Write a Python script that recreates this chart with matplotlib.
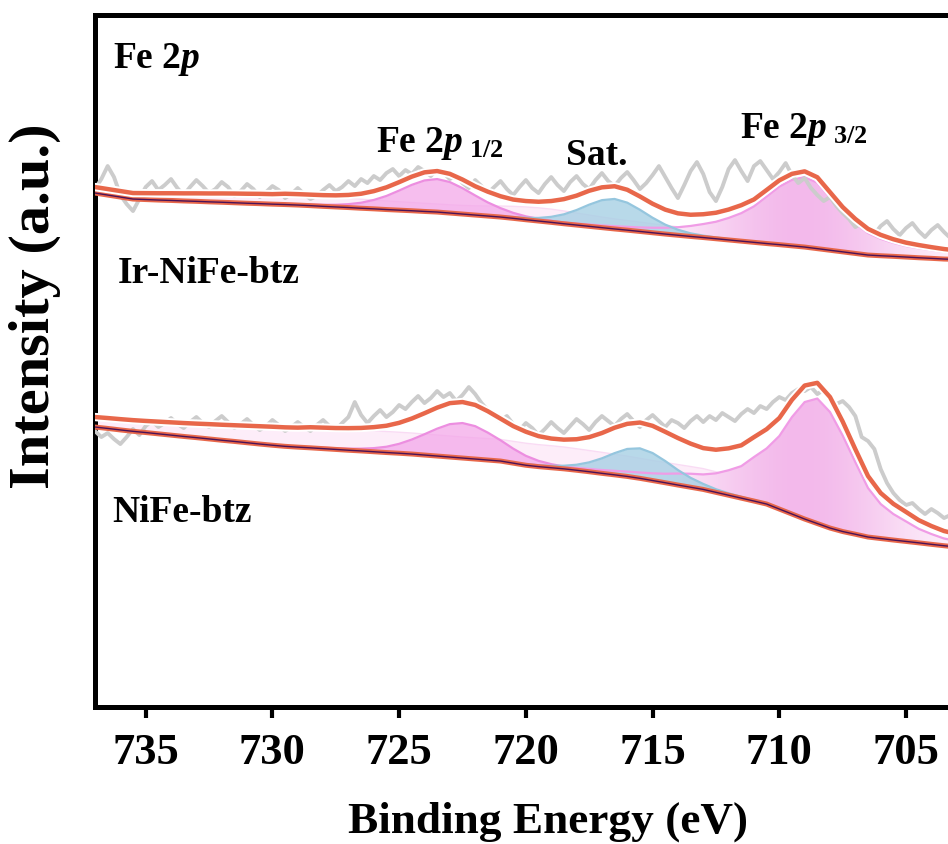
import numpy as np
import matplotlib.pyplot as plt
import matplotlib.patheffects as pe
from matplotlib.colors import LinearSegmentedColormap

plt.rcParams['font.family'] = ['Liberation Serif', 'DejaVu Serif']
plt.rcParams['font.weight'] = 'bold'
plt.rcParams['mathtext.fontset'] = 'custom'
plt.rcParams['mathtext.rm'] = 'Liberation Serif:bold'
plt.rcParams['mathtext.bf'] = 'Liberation Serif:bold'
plt.rcParams['mathtext.it'] = 'Liberation Serif:italic:bold'

# binding energy grids (eV): fitted curves every 0.5 eV, measured data every 0.25 eV
be = np.linspace(737.0, 703.0, 69)
be_raw = np.linspace(737.0, 703.0, 137)
xtick_vals = [735, 730, 725, 720, 715, 710, 705]

# ---- Ir-NiFe-btz (upper trace, stacked offset) ----
ir_bg = [514, 512, 510, 508, 507.5, 507, 506.6, 506.1, 505.7, 505.2,
         504.8, 504.3, 503.8, 503.4, 502.9, 502.5, 502, 501.4, 500.7, 500.1,
         499.5, 498.8, 498.2, 497.5, 496.9, 496.3, 495.6, 495, 494, 493,
         492, 491, 490, 488.7, 487.3, 486, 484.7, 483.3, 482, 480.7,
         479.4, 478.1, 476.9, 475.6, 474.3, 473, 471.8, 470.6, 469.5, 468.3,
         467.1, 465.9, 464.7, 463.5, 462.4, 461.2, 460, 458.4, 456.8, 455.2,
         453.6, 452, 451.3, 450.7, 450, 449.3, 448.7, 448, 447.6]
ir_broad = [6, 6, 6, 6, 6.4, 6.8, 7.2, 7.6, 8, 8.4,
            8.8, 9.2, 9.5, 9.8, 10, 10, 10, 9.8, 9.6, 9.4,
            9.2, 9, 8.8, 8.6, 8.4, 8.2, 8.1, 8, 8.2, 8.6,
            9.2, 10, 11, 12, 12.8, 13.2, 13.2, 12.8, 12, 11.3,
            10.6, 10, 9.6, 9.3, 9, 8.7, 8.4, 8.1, 7.9, 7.7,
            7.5, 7.2, 6.9, 6.6, 6.3, 6, 5.7, 5.4, 5.1, 4.8,
            4.5, 4.2, 3.9, 3.6, 3.4, 3.2, 3, 2.8, 2.6]
ir_p12 = (729.5, [0.8, 0.9, 1.2, 1.6, 2.2, 3.4, 5.5, 8.9, 13.6, 19.6, 25.9, 31.0, 33,
                  31.0, 25.9, 19.6, 13.6, 8.9, 5.5, 3.4, 2.2, 1.6, 1.2, 0.9, 0.8])
ir_sat = (721.5, [0.75, 0.9, 1.3, 1.9, 3.1, 5.5, 9.4, 15, 21.7, 27.5, 30,
                  27.5, 21.7, 15, 9.4, 5.5, 3.1, 1.9, 1.3, 0.9, 0.75])
ir_p32 = (720.0, [0.6, 0.8, 1.0, 1.2, 1.5, 1.8, 2.2, 2.7, 3.3, 4, 5, 6.3, 8, 10.5,
                  13.5, 17, 22, 28, 36, 47, 58, 66, 70, 66, 53, 40, 30, 22, 17,
                  13.5, 11, 9.5, 8.2, 7.2, 6.4])
ir_raw = [518, 528, 541, 530, 512, 503, 496, 508, 520,
          526, 517, 522, 528, 519, 512, 520, 527,
          521, 514, 518, 525, 520, 511, 516, 523,
          518, 510, 515, 521, 517, 509, 513, 519,
          513, 508, 511, 517, 522, 516, 520, 526,
          521, 528, 524, 531, 527, 534, 538, 531,
          537, 533, 540, 536, 531, 538, 534, 528,
          532, 524, 519, 527, 521, 514, 520, 526,
          518, 512, 520, 527, 519, 514, 523, 530,
          522, 516, 525, 531, 523, 518, 527, 534,
          526, 521, 529, 535, 527, 518, 524, 532,
          541, 530, 519, 509, 522, 536, 545, 533,
          515, 506, 520, 538, 547, 536, 526, 541,
          546, 537, 528, 535, 544, 532, 524, 529,
          519, 512, 506, 510, 501, 494, 488, 480,
          484, 477, 473, 481, 486, 478, 472, 479,
          484, 476, 470, 477, 482, 475, 469, 474]

# ---- NiFe-btz (lower trace) ----
nife_bg = [280, 278.6, 277.1, 275.7, 274.5, 273.2, 271.9, 270.6, 269.4, 268.1,
           266.8, 265.6, 264.3, 263, 261.8, 260.7, 259.9, 259.2, 258.4, 257.6,
           256.8, 256.1, 255.3, 254.5, 253.8, 253, 252, 251, 250, 249,
           248, 247, 246, 243.9, 241.8, 240.4, 239.3, 238.2, 236.8, 235.3,
           233.7, 232.2, 230.6, 228.7, 226.5, 224.3, 222, 219.8, 217.6, 214.7,
           211.8, 208.9, 206, 203, 198, 193, 188, 183.5, 179, 175.5,
           172.8, 170, 168.5, 167, 165.6, 164.2, 162.7, 161.3, 160]
nife_broad = [10, 10.4, 10.8, 11.2, 11.6, 12.2, 12.8, 13.4, 14, 14.8,
              15.5, 16.2, 17, 17.8, 18.5, 19, 19.5, 19.8, 20, 20.2,
              20.5, 20.7, 21, 21, 21, 21, 21, 21, 21, 21,
              21.2, 21.4, 21.6, 21.8, 22, 22, 22, 21.8, 21.5, 21.2,
              21, 20.6, 20.3, 20, 20, 20.2, 20.5, 20.7, 20.8, 20.5,
              20, 19.5, 19, 18.5, 18, 17.2, 16.5, 15.7, 15, 14,
              13, 12, 11, 10.2, 9.5, 8.7, 8, 7.5, 7]
nife_p12 = (728.5, [0.8, 1.0, 1.2, 1.6, 2.3, 3.6, 5.8, 9.4, 14.5, 20.8, 27.4, 32.9, 35,
                    32.9, 27.4, 20.8, 14.5, 9.4, 5.8, 3.6, 2.3, 1.6, 1.2, 1.0, 0.8])
nife_sat = (720.5, [0.75, 0.9, 1.3, 1.9, 3.1, 5.5, 9.4, 15, 21.7, 27.5, 30,
                    27.5, 21.7, 15, 9.4, 5.5, 3.1, 1.9, 1.3, 0.9, 0.75])
nife_p32 = (720.0, [1.2, 1.4, 1.7, 2, 2.4, 2.8, 3.3, 4.0, 4.8, 5.8, 7.2, 9, 11.5, 13.5,
                    15, 19, 25, 32, 44, 55.6, 73, 97, 117, 125, 116, 96, 72, 49,
                    34.5, 26, 20, 14, 10.3, 7.2, 6])
nife_raw = [276, 270, 274, 268, 263, 270, 278, 272, 281,
            286, 280, 284, 289, 283, 279, 285, 290,
            284, 280, 286, 291, 285, 279, 283, 288,
            282, 277, 281, 287, 282, 276, 280, 285,
            280, 276, 282, 287, 281, 277, 284, 290,
            305, 292, 284, 291, 297, 290, 295, 302,
            298, 305, 311, 304, 309, 316, 310, 314,
            306, 312, 320, 313, 304, 297, 292, 286,
            291, 283, 277, 284, 279, 272, 278, 285,
            279, 274, 281, 288, 283, 277, 285, 291,
            286, 281, 288, 293, 286, 280, 287, 292,
            286, 280, 287, 284, 279, 286, 291, 285,
            291, 287, 294, 290, 286, 293, 298, 294,
            301, 298, 305, 310, 307, 314, 318, 316,
            320, 313, 317, 309, 303, 306, 300, 291,
            270, 266, 258, 238, 224, 214, 207, 202,
            204, 198, 193, 198, 194, 189, 192, 188]


def on_grid(comp):
    """put a fitted peak (start energy, values) onto the common grid"""
    start, vals = comp
    out = np.zeros_like(be)
    i0 = int(round((737.0 - start) / 0.5))
    out[i0:i0 + len(vals)] = vals
    return out


pink_cmap = LinearSegmentedColormap.from_list('p32', ['#fef4fc', '#f8d3f2', '#f3b9eb'])
line_kw = dict(solid_joinstyle='round', solid_capstyle='round')


def draw_spectrum(ax, bg, broad, p12, sat, p32, raw):
    bg = np.asarray(bg, float)
    broad = np.asarray(broad, float)
    p12, sat, p32 = on_grid(p12), on_grid(sat), on_grid(p32)
    env = bg + broad + p12 + sat + p32

    # broad underlying component (kept beneath the other fills)
    ax.fill_between(be, bg, bg + broad, color='#fdedf9', lw=0, zorder=1)
    ax.plot(be, bg + broad, color='#f9dbf4', lw=1.0, zorder=1.2)

    # Fe 2p3/2 with a horizontal pink gradient
    poly = ax.fill_between(be, bg, bg + p32, color='none', lw=0, zorder=1)
    grad = np.exp(-((be - 709.0) / 4.0) ** 2)[None, :]
    im = ax.imshow(grad, cmap=pink_cmap, aspect='auto', zorder=1.5,
                   extent=[be[0], be[-1], bg.min(), (bg + p32).max()],
                   origin='lower', interpolation='bilinear')
    im.set_clip_path(poly.get_paths()[0], transform=ax.transData)
    ax.plot(be, bg + p32, color='#f09ce6', lw=1.6, zorder=2, **line_kw)

    # Fe 2p1/2 and satellite
    ax.fill_between(be, bg, bg + p12, color='#f3a8e9', alpha=0.75, lw=0, zorder=1.6)
    ax.plot(be, bg + p12, color='#ec8ee0', lw=1.6, zorder=2, **line_kw)
    ax.fill_between(be, bg, bg + sat, color='#a7d0e4', alpha=0.8, lw=0, zorder=1.7)
    ax.plot(be, bg + sat, color='#95c6de', lw=1.6, zorder=2, **line_kw)

    # measured data, background and envelope
    ax.plot(be_raw, raw, color='#cccccc', lw=2.8, zorder=3, **line_kw)
    ax.plot(be, bg, color='#e8674a', lw=3.6, zorder=4, **line_kw)
    ax.plot(be, bg, color='#4a1258', lw=1.0, zorder=5)
    ax.plot(be, env, color='#e8674a', lw=3.2, zorder=6, **line_kw,
            path_effects=[pe.Stroke(linewidth=6, foreground='white'), pe.Normal()])


fig = plt.figure(figsize=(9.48, 8.45), dpi=100)
ax = fig.add_axes([0.1002, 0.1621, 0.909, 0.8189])

draw_spectrum(ax, ir_bg, ir_broad, ir_p12, ir_sat, ir_p32, ir_raw)
draw_spectrum(ax, nife_bg, nife_broad, nife_p12, nife_sat, nife_p32, nife_raw)

ax.set_xlim(737, 703)
ax.set_ylim(0, 692)
ax.set_xticks(xtick_vals)
ax.set_xticklabels([str(v) for v in xtick_vals])
ax.set_yticks([])
ax.tick_params(axis='x', direction='out', length=8, width=3, pad=10, labelsize=32)
for s in ax.spines.values():
    s.set_linewidth(3.6)

txt = dict(fontsize=27, fontweight='bold', ha='left', va='baseline', zorder=10)
ax.text(736.3, 640, r'Fe 2$\mathit{p}$', **txt)
ax.text(725.9, 556, r'Fe 2$\mathit{p}_{\ \mathrm{1/2}}$', **txt)
ax.text(718.4, 543, 'Sat.', **txt)
ax.text(711.55, 570, r'Fe 2$\mathit{p}_{\ \mathrm{3/2}}$', **txt)
ax.text(736.1, 425, 'Ir-NiFe-btz', **txt)
ax.text(736.3, 186, 'NiFe-btz', **txt)

fig.text(0.578, 0.0142, 'Binding Energy (eV)', fontsize=32.6, fontweight='bold',
         ha='center', va='baseline')
fig.text(0.037, 0.638, 'Intensity (a.u.)', fontsize=42, fontweight='bold',
         ha='center', va='center', rotation=90)

fig.savefig('out.png', dpi=100)
